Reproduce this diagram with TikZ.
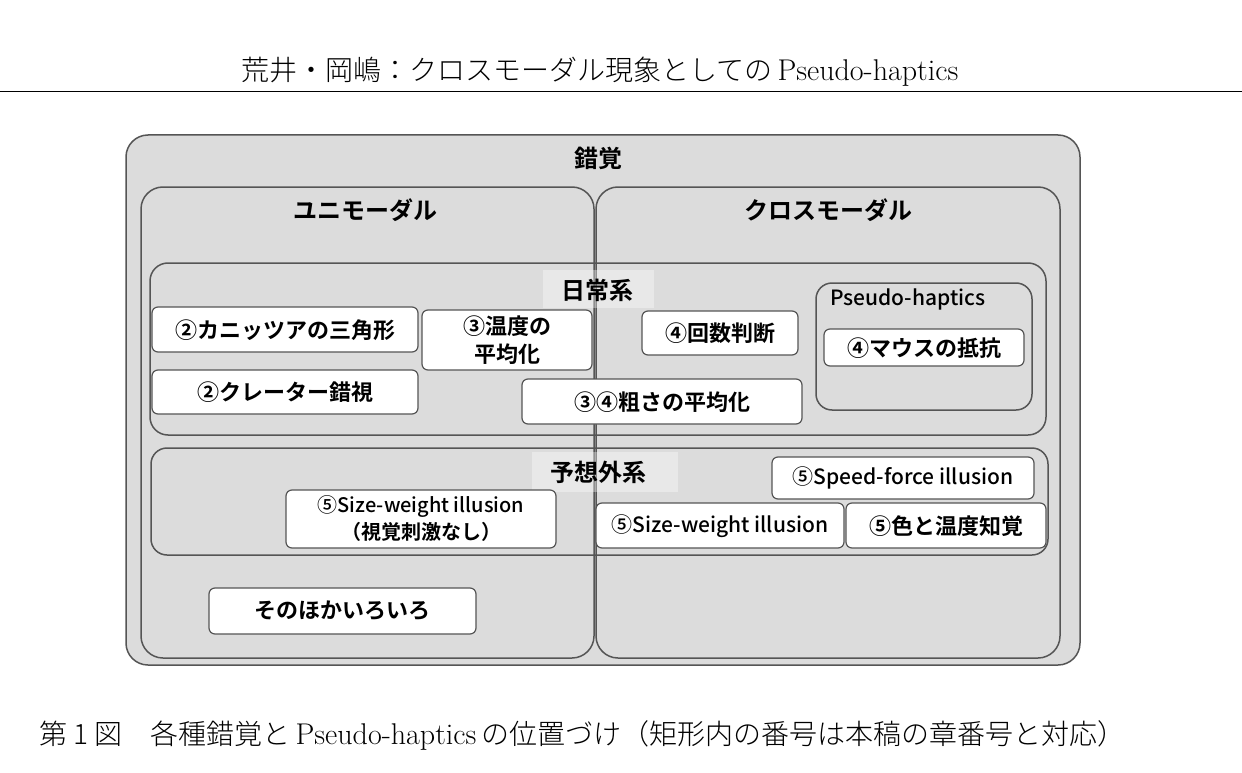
\documentclass[tikz,border=0pt]{standalone}
\usepackage{fontspec}
\newfontfamily\cjk{Noto Sans CJK JP}
\newfontfamily\cjkb{Noto Sans CJK JP Bold}
\newfontfamily\cjkm{Noto Sans CJK JP Medium}
\newfontfamily\serifjp{Noto Sans CJK JP Light}
\newfontfamily\lmr{Latin Modern Roman}
\definecolor{bggray}{HTML}{DCDCDC}
\definecolor{edge}{HTML}{555555}
\tikzset{
  grp/.style={draw=edge,line width=1.5pt,rounded corners=22pt},
  ibox/.style={draw=edge,line width=1.2pt,fill=white,rounded corners=6pt},
  lbl/.style={font=\cjkb\fontsize{24}{28}\selectfont},
  btxt/.style={font=\cjkb\fontsize{22}{27}\selectfont,align=center},
  ltxt/.style={font=\cjkm\fontsize{21}{27}\selectfont,align=center},
  lbg/.style={fill=white,opacity=0.35},
}
\begin{document}
\begin{tikzpicture}[x=1pt,y=-1pt]
\useasboundingbox (0,0) rectangle (1242,773);
\fill[white] (0,0) rectangle (1242,773);
\node (hdr) at (600,72) {\serifjp\fontsize{28}{32}\selectfont 荒井・岡嶋：クロスモーダル現象としての\,\lmr\fontsize{30}{32}\selectfont Pseudo-haptics};
\draw[line width=1pt] (0,92) coordinate (hl) -- (1242,92) coordinate (hr);
% outer
\draw[grp,fill=bggray] (126,135) rectangle (1080,665);
\node[lbl] (sakkaku) at (598,158) {錯覚};
\draw[grp] (141,187) rectangle (594,658);
\draw[grp] (596,187) rectangle (1060,658);
\node[lbl] (uni) at (365,210) {ユニモーダル};
\node[lbl] (cross) at (828,210) {クロスモーダル};
% daily
\draw[grp,rounded corners=18pt] (150,263) rectangle (1046,435);
\fill[lbg] (543,270) rectangle (654,308);
\node[lbl] (daily) at (597,290) {日常系};
\draw[grp,rounded corners=16pt] (816,283) rectangle (1032,410);
\node[ltxt] (ph) at (908,299) {Pseudo-haptics};
\draw[ibox] (824,329) rectangle (1024,366);
\node[btxt] (mouse) at (924,348) {④マウスの抵抗};
\draw[ibox] (152,307) rectangle (418,352);
\node[btxt] (kani) at (285,330) {②カニッツアの三角形};
\draw[ibox] (422,310) rectangle (592,370);
\node[btxt,font=\cjkb\fontsize{22}{28}\selectfont] (ondo) at (507,340) {③温度の\\平均化};
\draw[ibox] (642,311) rectangle (798,355);
\node[btxt] (kaisu) at (720,333) {④回数判断};
\draw[ibox] (152,370) rectangle (418,414);
\node[btxt] (crater) at (285,392) {②クレーター錯視};
\draw[ibox] (522,379) rectangle (802,424);
\node[btxt] (arasa) at (662,402) {③④粗さの平均化};
% unexpected
\draw[grp,rounded corners=16pt] (151,448) rectangle (1048,555);
\fill[lbg] (532,452) rectangle (678,492);
\node[lbl] (unexp) at (598,472) {予想外系};
\draw[ibox] (772,457) rectangle (1034,499);
\node[ltxt] (speed) at (903,478) {⑤Speed-force illusion};
\draw[ibox] (286,490) rectangle (556,548);
\node[ltxt,font=\cjkm\fontsize{20}{27}\selectfont] (sw1) at (421,519) {⑤Size-weight illusion\\{\cjkb （視覚刺激なし）}};
\draw[ibox] (596,503) rectangle (844,548);
\node[ltxt] (sw2) at (720,526) {⑤Size-weight illusion};
\draw[ibox] (846,503) rectangle (1046,548);
\node[btxt] (iro) at (946,526) {⑤色と温度知覚};
\draw[ibox] (209,588) rectangle (476,634);
\node[btxt] (sonota) at (342,611) {そのほかいろいろ};
\node[anchor=west] (cap) at (36,735) {\serifjp\fontsize{28}{32}\selectfont 第 1 図\quad 各種錯覚と\,{\lmr\fontsize{30}{32}\selectfont Pseudo-haptics}\,の位置づけ（矩形内の番号は本稿の章番号と対応）};
\end{tikzpicture}
\end{document}
